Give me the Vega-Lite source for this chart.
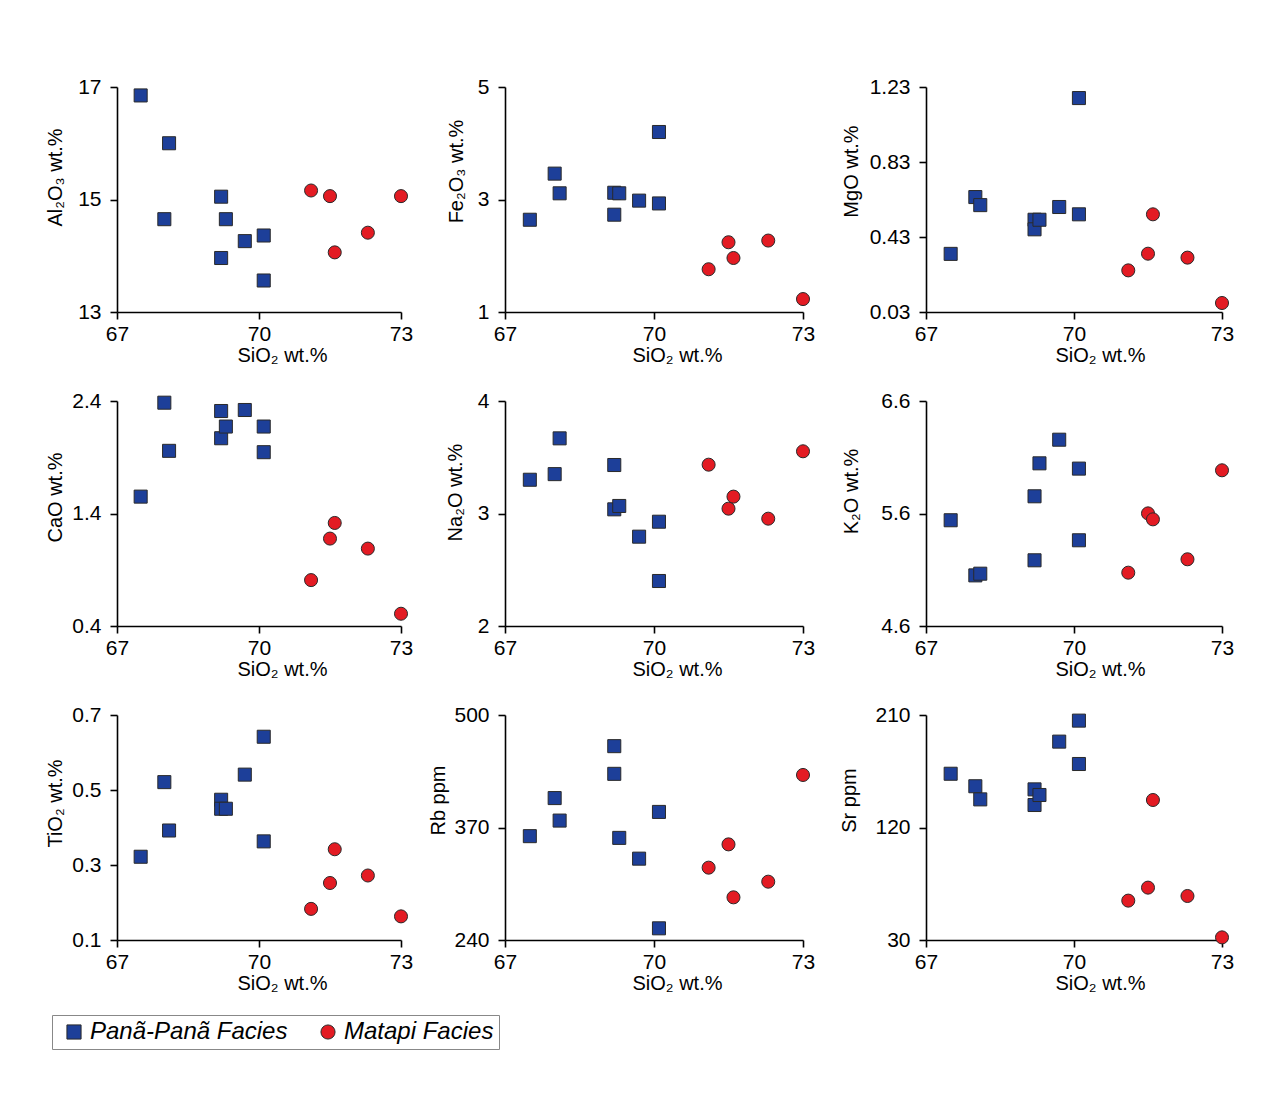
{
  "$schema": "https://vega.github.io/schema/vega-lite/v6.json",
  "background": "white",
  "padding": {"left": 45, "top": 76, "right": 10, "bottom": 10},
  "data": {"values": [
    {"Facies": "Panã-Panã Facies", "SiO2": 67.5, "Al2O3": 16.85, "Fe2O3": 2.64, "MgO": 0.34, "CaO": 1.55, "Na2O": 3.30, "K2O": 5.54, "TiO2": 0.322, "Rb": 360, "Sr": 163},
    {"Facies": "Panã-Panã Facies", "SiO2": 68.0, "Al2O3": 14.65, "Fe2O3": 3.46, "MgO": 0.643, "CaO": 2.385, "Na2O": 3.35, "K2O": 5.05, "TiO2": 0.521, "Rb": 404, "Sr": 153},
    {"Facies": "Panã-Panã Facies", "SiO2": 68.1, "Al2O3": 16.0, "Fe2O3": 3.11, "MgO": 0.60, "CaO": 1.957, "Na2O": 3.668, "K2O": 5.065, "TiO2": 0.392, "Rb": 378, "Sr": 142.5},
    {"Facies": "Panã-Panã Facies", "SiO2": 69.2, "Al2O3": 15.05, "Fe2O3": 3.12, "MgO": 0.522, "CaO": 2.311, "Na2O": 3.431, "K2O": 5.753, "TiO2": 0.474, "Rb": 464, "Sr": 150.5},
    {"Facies": "Panã-Panã Facies", "SiO2": 69.2, "Al2O3": 13.96, "Fe2O3": 2.73, "MgO": 0.471, "CaO": 2.069, "Na2O": 3.037, "K2O": 5.184, "TiO2": 0.45, "Rb": 432, "Sr": 138},
    {"Facies": "Panã-Panã Facies", "SiO2": 69.3, "Al2O3": 14.65, "Fe2O3": 3.11, "MgO": 0.522, "CaO": 2.173, "Na2O": 3.067, "K2O": 6.046, "TiO2": 0.45, "Rb": 358, "Sr": 146},
    {"Facies": "Panã-Panã Facies", "SiO2": 69.7, "Al2O3": 14.26, "Fe2O3": 2.98, "MgO": 0.59, "CaO": 2.32, "Na2O": 2.794, "K2O": 6.256, "TiO2": 0.541, "Rb": 334, "Sr": 188.7},
    {"Facies": "Panã-Panã Facies", "SiO2": 70.1, "Al2O3": 14.36, "Fe2O3": 4.20, "MgO": 1.171, "CaO": 2.173, "Na2O": 2.927, "K2O": 5.999, "TiO2": 0.642, "Rb": 388, "Sr": 205.5},
    {"Facies": "Panã-Panã Facies", "SiO2": 70.1, "Al2O3": 13.56, "Fe2O3": 2.93, "MgO": 0.551, "CaO": 1.945, "Na2O": 2.40, "K2O": 5.362, "TiO2": 0.363, "Rb": 253.5, "Sr": 170.8},
    {"Facies": "Matapi Facies", "SiO2": 71.1, "Al2O3": 15.16, "Fe2O3": 1.76, "MgO": 0.252, "CaO": 0.808, "Na2O": 3.434, "K2O": 5.074, "TiO2": 0.183, "Rb": 323.6, "Sr": 61.5},
    {"Facies": "Matapi Facies", "SiO2": 71.5, "Al2O3": 15.06, "Fe2O3": 2.24, "MgO": 0.341, "CaO": 1.177, "Na2O": 3.043, "K2O": 5.601, "TiO2": 0.252, "Rb": 350.5, "Sr": 71.9},
    {"Facies": "Matapi Facies", "SiO2": 71.6, "Al2O3": 14.06, "Fe2O3": 1.96, "MgO": 0.551, "CaO": 1.316, "Na2O": 3.15, "K2O": 5.548, "TiO2": 0.342, "Rb": 289.3, "Sr": 142},
    {"Facies": "Matapi Facies", "SiO2": 72.3, "Al2O3": 14.41, "Fe2O3": 2.27, "MgO": 0.32, "CaO": 1.088, "Na2O": 2.954, "K2O": 5.193, "TiO2": 0.272, "Rb": 307.4, "Sr": 65.2},
    {"Facies": "Matapi Facies", "SiO2": 73.0, "Al2O3": 15.06, "Fe2O3": 1.23, "MgO": 0.078, "CaO": 0.509, "Na2O": 3.553, "K2O": 5.984, "TiO2": 0.163, "Rb": 430.7, "Sr": 32.1}
  ]},
  "columns": 3,
  "bounds": "flush",
  "align": "each",
  "spacing": {"row": 89, "column": 104},
  "resolve": {"scale": {"color": "shared", "shape": "shared"}, "legend": {"color": "shared", "shape": "shared"}},
  "concat": [
    {
      "width": 284, "height": 225,
      "mark": {"type": "point", "filled": true, "size": 170, "stroke": "#2a2a2a", "strokeWidth": 1, "opacity": 1},
      "encoding": {
        "x": {"field": "SiO2", "type": "quantitative", "scale": {"domain": [67, 73], "nice": false, "zero": false}, "axis": {"values": [67, 70, 73], "title": "SiO₂ wt.%", "titleX": 165}},
        "y": {"field": "Al2O3", "type": "quantitative", "scale": {"domain": [13, 17], "nice": false, "zero": false}, "axis": {"values": [13, 15, 17], "title": "Al₂O₃ wt.%", "titleX": -62, "titleY": 90}},
        "color": {"field": "Facies", "type": "nominal", "title": null, "scale": {"domain": ["Panã-Panã Facies", "Matapi Facies"], "range": ["#1d3f99", "#e31b23"]}},
        "shape": {"field": "Facies", "type": "nominal", "title": null, "scale": {"domain": ["Panã-Panã Facies", "Matapi Facies"], "range": ["square", "circle"]}}
      }
    },
    {
      "width": 317, "height": 225,
      "mark": {"type": "point", "filled": true, "size": 170, "stroke": "#2a2a2a", "strokeWidth": 1, "opacity": 1},
      "encoding": {
        "x": {"field": "SiO2", "type": "quantitative", "scale": {"domain": [67, 73], "nice": false, "zero": false, "range": [0, 298]}, "axis": {"values": [67, 70, 73], "title": "SiO₂ wt.%", "titleX": 172}},
        "y": {"field": "Fe2O3", "type": "quantitative", "scale": {"domain": [1, 5], "nice": false, "zero": false}, "axis": {"values": [1, 3, 5], "title": "Fe₂O₃ wt.%", "titleX": -49, "titleY": 84}},
        "color": {"field": "Facies", "type": "nominal", "title": null, "scale": {"domain": ["Panã-Panã Facies", "Matapi Facies"], "range": ["#1d3f99", "#e31b23"]}},
        "shape": {"field": "Facies", "type": "nominal", "title": null, "scale": {"domain": ["Panã-Panã Facies", "Matapi Facies"], "range": ["square", "circle"]}}
      }
    },
    {
      "width": 296, "height": 225,
      "mark": {"type": "point", "filled": true, "size": 170, "stroke": "#2a2a2a", "strokeWidth": 1, "opacity": 1},
      "encoding": {
        "x": {"field": "SiO2", "type": "quantitative", "scale": {"domain": [67, 73], "nice": false, "zero": false}, "axis": {"values": [67, 70, 73], "title": "SiO₂ wt.%", "titleX": 174}},
        "y": {"field": "MgO", "type": "quantitative", "scale": {"domain": [0.03, 1.23], "nice": false, "zero": false}, "axis": {"values": [0.03, 0.43, 0.83, 1.23], "title": "MgO wt.%", "titleX": -75, "titleY": 84}},
        "color": {"field": "Facies", "type": "nominal", "title": null, "scale": {"domain": ["Panã-Panã Facies", "Matapi Facies"], "range": ["#1d3f99", "#e31b23"]}},
        "shape": {"field": "Facies", "type": "nominal", "title": null, "scale": {"domain": ["Panã-Panã Facies", "Matapi Facies"], "range": ["square", "circle"]}}
      }
    },
    {
      "width": 284, "height": 225,
      "mark": {"type": "point", "filled": true, "size": 170, "stroke": "#2a2a2a", "strokeWidth": 1, "opacity": 1},
      "encoding": {
        "x": {"field": "SiO2", "type": "quantitative", "scale": {"domain": [67, 73], "nice": false, "zero": false}, "axis": {"values": [67, 70, 73], "title": "SiO₂ wt.%", "titleX": 165}},
        "y": {"field": "CaO", "type": "quantitative", "scale": {"domain": [0.4, 2.4], "nice": false, "zero": false}, "axis": {"values": [0.4, 1.4, 2.4], "title": "CaO wt.%", "titleX": -62, "titleY": 96}},
        "color": {"field": "Facies", "type": "nominal", "title": null, "scale": {"domain": ["Panã-Panã Facies", "Matapi Facies"], "range": ["#1d3f99", "#e31b23"]}},
        "shape": {"field": "Facies", "type": "nominal", "title": null, "scale": {"domain": ["Panã-Panã Facies", "Matapi Facies"], "range": ["square", "circle"]}}
      }
    },
    {
      "width": 317, "height": 225,
      "mark": {"type": "point", "filled": true, "size": 170, "stroke": "#2a2a2a", "strokeWidth": 1, "opacity": 1},
      "encoding": {
        "x": {"field": "SiO2", "type": "quantitative", "scale": {"domain": [67, 73], "nice": false, "zero": false, "range": [0, 298]}, "axis": {"values": [67, 70, 73], "title": "SiO₂ wt.%", "titleX": 172}},
        "y": {"field": "Na2O", "type": "quantitative", "scale": {"domain": [2, 4], "nice": false, "zero": false}, "axis": {"values": [2, 3, 4], "title": "Na₂O wt.%", "titleX": -50, "titleY": 91}},
        "color": {"field": "Facies", "type": "nominal", "title": null, "scale": {"domain": ["Panã-Panã Facies", "Matapi Facies"], "range": ["#1d3f99", "#e31b23"]}},
        "shape": {"field": "Facies", "type": "nominal", "title": null, "scale": {"domain": ["Panã-Panã Facies", "Matapi Facies"], "range": ["square", "circle"]}}
      }
    },
    {
      "width": 296, "height": 225,
      "mark": {"type": "point", "filled": true, "size": 170, "stroke": "#2a2a2a", "strokeWidth": 1, "opacity": 1},
      "encoding": {
        "x": {"field": "SiO2", "type": "quantitative", "scale": {"domain": [67, 73], "nice": false, "zero": false}, "axis": {"values": [67, 70, 73], "title": "SiO₂ wt.%", "titleX": 174}},
        "y": {"field": "K2O", "type": "quantitative", "scale": {"domain": [4.6, 6.6], "nice": false, "zero": false}, "axis": {"values": [4.6, 5.6, 6.6], "title": "K₂O wt.%", "titleX": -75, "titleY": 90}},
        "color": {"field": "Facies", "type": "nominal", "title": null, "scale": {"domain": ["Panã-Panã Facies", "Matapi Facies"], "range": ["#1d3f99", "#e31b23"]}},
        "shape": {"field": "Facies", "type": "nominal", "title": null, "scale": {"domain": ["Panã-Panã Facies", "Matapi Facies"], "range": ["square", "circle"]}}
      }
    },
    {
      "width": 284, "height": 225,
      "mark": {"type": "point", "filled": true, "size": 170, "stroke": "#2a2a2a", "strokeWidth": 1, "opacity": 1},
      "encoding": {
        "x": {"field": "SiO2", "type": "quantitative", "scale": {"domain": [67, 73], "nice": false, "zero": false}, "axis": {"values": [67, 70, 73], "title": "SiO₂ wt.%", "titleX": 165}},
        "y": {"field": "TiO2", "type": "quantitative", "scale": {"domain": [0.1, 0.7], "nice": false, "zero": false}, "axis": {"values": [0.1, 0.3, 0.5, 0.7], "title": "TiO₂ wt.%", "titleX": -62, "titleY": 88}},
        "color": {"field": "Facies", "type": "nominal", "title": null, "scale": {"domain": ["Panã-Panã Facies", "Matapi Facies"], "range": ["#1d3f99", "#e31b23"]}},
        "shape": {"field": "Facies", "type": "nominal", "title": null, "scale": {"domain": ["Panã-Panã Facies", "Matapi Facies"], "range": ["square", "circle"]}}
      }
    },
    {
      "width": 317, "height": 225,
      "mark": {"type": "point", "filled": true, "size": 170, "stroke": "#2a2a2a", "strokeWidth": 1, "opacity": 1},
      "encoding": {
        "x": {"field": "SiO2", "type": "quantitative", "scale": {"domain": [67, 73], "nice": false, "zero": false, "range": [0, 298]}, "axis": {"values": [67, 70, 73], "title": "SiO₂ wt.%", "titleX": 172}},
        "y": {"field": "Rb", "type": "quantitative", "scale": {"domain": [240, 500], "nice": false, "zero": false}, "axis": {"values": [240, 370, 500], "title": "Rb ppm", "titleX": -67, "titleY": 85}},
        "color": {"field": "Facies", "type": "nominal", "title": null, "scale": {"domain": ["Panã-Panã Facies", "Matapi Facies"], "range": ["#1d3f99", "#e31b23"]}},
        "shape": {"field": "Facies", "type": "nominal", "title": null, "scale": {"domain": ["Panã-Panã Facies", "Matapi Facies"], "range": ["square", "circle"]}}
      }
    },
    {
      "width": 296, "height": 225,
      "mark": {"type": "point", "filled": true, "size": 170, "stroke": "#2a2a2a", "strokeWidth": 1, "opacity": 1},
      "encoding": {
        "x": {"field": "SiO2", "type": "quantitative", "scale": {"domain": [67, 73], "nice": false, "zero": false}, "axis": {"values": [67, 70, 73], "title": "SiO₂ wt.%", "titleX": 174}},
        "y": {"field": "Sr", "type": "quantitative", "scale": {"domain": [30, 210], "nice": false, "zero": false}, "axis": {"values": [30, 120, 210], "title": "Sr ppm", "titleX": -77, "titleY": 85}},
        "color": {"field": "Facies", "type": "nominal", "title": null, "scale": {"domain": ["Panã-Panã Facies", "Matapi Facies"], "range": ["#1d3f99", "#e31b23"]}},
        "shape": {"field": "Facies", "type": "nominal", "title": null, "scale": {"domain": ["Panã-Panã Facies", "Matapi Facies"], "range": ["square", "circle"]}}
      }
    }
  ],
  "config": {
    "view": {"stroke": null},
    "font": "Liberation Sans",
    "axis": {
      "grid": false,
      "domainColor": "#000000",
      "domainWidth": 1.6,
      "tickColor": "#000000",
      "tickWidth": 1.6,
      "tickSize": 7,
      "labelFont": "Liberation Sans",
      "labelFontSize": 21,
      "labelColor": "#000000",
      "labelPadding": 4,
      "labelFlush": false,
      "labelOverlap": false,
      "labelBound": false,
      "format": ".4~g",
      "titleFont": "Liberation Sans",
      "titleFontSize": 20,
      "titleFontWeight": "normal",
      "titleColor": "#000000"
    },
    "axisX": {"titleY": 33, "titleBaseline": "top"},
    "axisY": {"titleBaseline": "middle", "titleAngle": -90, "labelPadding": 9},
    "legend": {
      "orient": "none",
      "legendX": -65,
      "legendY": 928,
      "direction": "horizontal",
      "padding": 5,
      "strokeColor": "#888888",
      "fillColor": "white",
      "labelFont": "Liberation Sans",
      "labelFontSize": 24,
      "labelFontStyle": "italic",
      "labelColor": "#000000",
      "labelOffset": 4,
      "columnPadding": 23,
      "symbolSize": 200,
      "symbolOffset": 5,
      "symbolStrokeColor": "#2a2a2a",
      "symbolStrokeWidth": 1,
      "labelLimit": 400
    }
  }
}
